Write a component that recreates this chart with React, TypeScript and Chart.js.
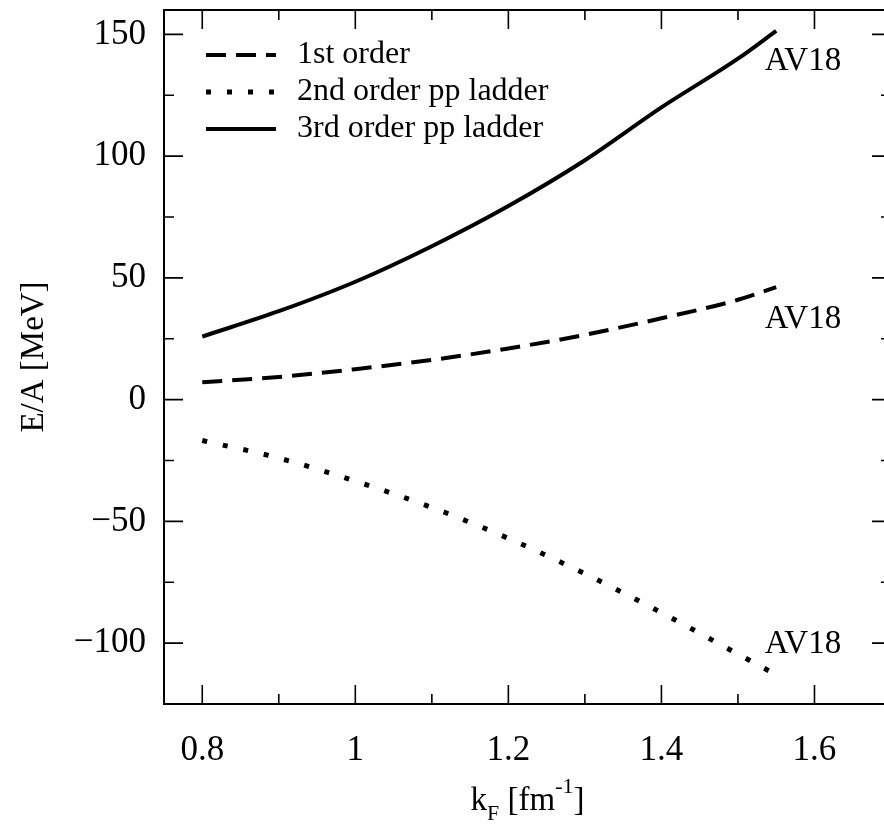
import React, { useEffect, useRef } from "react";
import { Chart, registerables } from "chart.js";

Chart.register(...registerables);

// Fermi momentum grid [fm^-1]
const kF = [0.8, 0.9, 1.0, 1.1, 1.2, 1.3, 1.4, 1.5, 1.55];
// Energy per particle [MeV]
const firstOrder = [7.1, 9.3, 12.5, 16.3, 21.0, 26.6, 33.4, 41.0, 46.2];
const secondOrderPP = [-16.8, -24.0, -33.5, -44.3, -57.0, -71.5, -87.5, -104.5, -113.0];
const thirdOrderPP = [25.9, 36.3, 48.4, 63.0, 79.5, 98.3, 120.0, 140.0, 151.4];

const seriesNames = ["1st order", "2nd order pp ladder", "3rd order pp ladder"];

// Axis ticks
const xMajor = [0.8, 1.0, 1.2, 1.4, 1.6];
const xMinor = [0.9, 1.1, 1.3, 1.5];
const yMajor = [-100, -50, 0, 50, 100, 150];
const yMinor = [-75, -25, 25, 75, 125];

// Potential tags placed next to each curve (data coordinates)
const tagText = ["AV18", "AV18", "AV18"];
const tagK = [1.535, 1.535, 1.535];
const tagE = [135.4, 29.3, -103.9];

const SERIF = "'Liberation Serif', 'Times New Roman', serif";

const framePlugin = {
  id: "gnuFrame",
  afterDraw(chart: any) {
    const { ctx, chartArea: a, scales } = chart;
    const xs = scales.x;
    const ys = scales.y;
    ctx.save();
    ctx.strokeStyle = "#000";
    ctx.fillStyle = "#000";
    ctx.lineWidth = 2;
    ctx.strokeRect(a.left, a.top, a.right - a.left, a.bottom - a.top);

    const major = 19;
    const minor = 10;
    ctx.lineWidth = 1.6;
    ctx.beginPath();
    const xt = (v: number, len: number) => {
      const p = xs.getPixelForValue(v);
      ctx.moveTo(p, a.bottom);
      ctx.lineTo(p, a.bottom - len);
      ctx.moveTo(p, a.top);
      ctx.lineTo(p, a.top + len);
    };
    const yt = (v: number, len: number) => {
      const p = ys.getPixelForValue(v);
      ctx.moveTo(a.left, p);
      ctx.lineTo(a.left + len, p);
      ctx.moveTo(a.right, p);
      ctx.lineTo(a.right - len, p);
    };
    xMajor.forEach((v) => xt(v, major));
    xMinor.forEach((v) => xt(v, minor));
    yMajor.forEach((v) => yt(v, major));
    yMinor.forEach((v) => yt(v, minor));
    ctx.stroke();

    // Legend
    ctx.font = `32px ${SERIF}`;
    ctx.textBaseline = "middle";
    ctx.textAlign = "left";
    const rows = [55, 92, 129];
    chart.data.datasets.forEach((ds: any, i: number) => {
      const y = rows[i];
      ctx.save();
      ctx.lineWidth = ds.borderWidth;
      ctx.lineCap = "butt";
      ctx.setLineDash(ds.borderDash || []);
      ctx.beginPath();
      ctx.moveTo(206, y);
      ctx.lineTo(276, y);
      ctx.stroke();
      ctx.restore();
      ctx.fillText(ds.label, 297, y);
    });

    // Curve tags
    ctx.textBaseline = "alphabetic";
    ctx.font = `33px ${SERIF}`;
    tagText.forEach((t, i) => {
      ctx.fillText(t, xs.getPixelForValue(tagK[i]), ys.getPixelForValue(tagE[i]));
    });

    // Y axis title
    ctx.save();
    ctx.translate(43, (a.top + a.bottom) / 2);
    ctx.rotate(-Math.PI / 2);
    ctx.textAlign = "center";
    ctx.font = `33px ${SERIF}`;
    ctx.fillText("E/A [MeV]", 0, 0);
    ctx.restore();

    // X axis title: k_F [fm^-1]
    const big = `33px ${SERIF}`;
    const small = `22px ${SERIF}`;
    const parts = [
      { t: "k", f: big, dy: 0 },
      { t: "F", f: small, dy: 10 },
      { t: " [fm", f: big, dy: 0 },
      { t: "-1", f: small, dy: -17 },
      { t: "]", f: big, dy: 0 },
    ];
    let total = 0;
    parts.forEach((p) => {
      ctx.font = p.f;
      total += ctx.measureText(p.t).width;
    });
    let x = (a.left + a.right) / 2 - total / 2;
    const base = 810;
    ctx.textAlign = "left";
    parts.forEach((p) => {
      ctx.font = p.f;
      ctx.fillText(p.t, x, base + p.dy);
      x += ctx.measureText(p.t).width;
    });
    ctx.restore();
  },
};

function fmt(v: number) {
  const s = String(Math.abs(v));
  return v < 0 ? "\u2212" + s : s;
}

export default function App() {
  const ref = useRef<HTMLCanvasElement | null>(null);

  useEffect(() => {
    if (!ref.current) return;
    const mk = (ys: number[]) => kF.map((k, i) => ({ x: k, y: ys[i] }));
    const chart = new Chart(ref.current, {
      type: "line",
      data: {
        datasets: [
          {
            label: seriesNames[0],
            data: mk(firstOrder),
            borderColor: "#000",
            borderWidth: 4,
            borderDash: [20, 10],
            pointRadius: 0,
            cubicInterpolationMode: "monotone",
          },
          {
            label: seriesNames[1],
            data: mk(secondOrderPP),
            borderColor: "#000",
            borderWidth: 5,
            borderDash: [5, 16],
            pointRadius: 0,
            cubicInterpolationMode: "monotone",
          },
          {
            label: seriesNames[2],
            data: mk(thirdOrderPP),
            borderColor: "#000",
            borderWidth: 4,
            pointRadius: 0,
            cubicInterpolationMode: "monotone",
          },
        ],
      },
      options: {
        animation: false,
        responsive: false,
        layout: { padding: { top: 10, right: 9, left: 0, bottom: 0 } },
        plugins: { legend: { display: false }, tooltip: { enabled: false } },
        scales: {
          x: {
            type: "linear",
            min: 0.75,
            max: 1.7,
            grid: { display: false, drawTicks: false },
            border: { display: false },
            afterBuildTicks: (s: any) => {
              s.ticks = xMajor.map((v) => ({ value: v }));
            },
            afterFit: (s: any) => {
              s.height = 123;
              s.paddingLeft = 0;
              s.paddingRight = 0;
            },
            ticks: {
              color: "#000",
              padding: 26,
              maxRotation: 0,
              font: { family: SERIF, size: 35 },
              callback: (v: any) => String(Number(v)),
            },
          },
          y: {
            type: "linear",
            min: -125,
            max: 160,
            grid: { display: false, drawTicks: false },
            border: { display: false },
            afterBuildTicks: (s: any) => {
              s.ticks = yMajor.map((v) => ({ value: v }));
            },
            afterFit: (s: any) => {
              s.width = 164;
              s.paddingTop = 0;
              s.paddingBottom = 0;
            },
            ticks: {
              color: "#000",
              padding: 18,
              font: { family: SERIF, size: 35 },
              callback: (v: any) => fmt(Number(v)),
            },
          },
        },
      },
      plugins: [framePlugin],
    } as any);
    return () => chart.destroy();
  }, []);

  return (
    <div
      style={{
        position: "fixed",
        left: 0,
        top: 0,
        width: 884,
        height: 827,
        overflow: "hidden",
        background: "#fff",
      }}
    >
      <canvas ref={ref} width={900} height={827} style={{ display: "block" }} />
    </div>
  );
}
